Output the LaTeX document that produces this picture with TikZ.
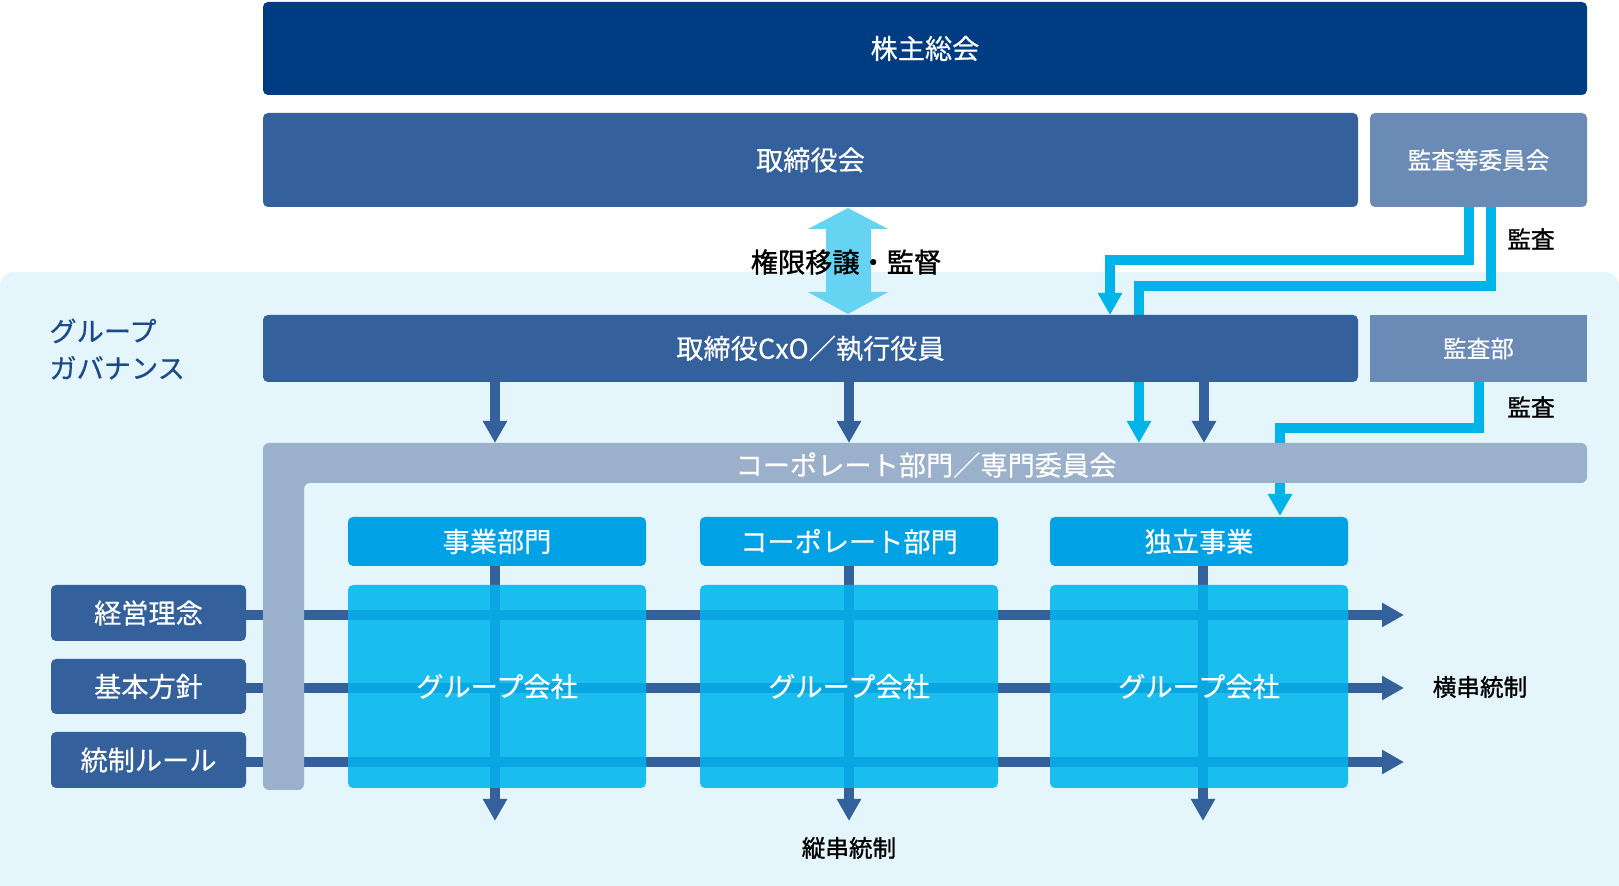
\documentclass[tikz,border=0pt]{standalone}
\usepackage{fontspec}
\setmainfont{Noto Sans CJK JP}[FakeBold=0.4]
\newfontfamily\lblfont{Noto Sans CJK JP}[FakeBold=1.2]
\usetikzlibrary{arrows.meta}
\definecolor{navy}{HTML}{003C82}
\definecolor{mid}{HTML}{34619B}
\definecolor{lite}{HTML}{6A8BB6}
\definecolor{bgl}{HTML}{E4F5FC}
\definecolor{barg}{HTML}{9BB0CB}
\definecolor{cyanl}{HTML}{00B4EA}
\definecolor{bigar}{HTML}{66D3F3}
\definecolor{hdr}{HTML}{00A2E6}
\definecolor{comp}{HTML}{19BEEE}
\definecolor{linein}{HTML}{0AA6E2}
\definecolor{ggtext}{HTML}{1B4A8A}
\newcommand\bx[7]{\node[#6, minimum width={(#4-#2)*0.5pt}, minimum height={(#5-#3)*0.5pt}] (#1) at ({(#2+#4)/2},{(#3+#5)/2}) {#7};}
\tikzset{
  box/.style={inner sep=0pt, outer sep=0pt, rounded corners=2.5pt, text=white, font=\fontsize{13.6pt}{15pt}\selectfont},
  smallbox/.style={box, font=\fontsize{11.8pt}{14pt}\selectfont},
  lbl/.style={inner sep=0pt, text=black, font=\lblfont\fontsize{13.6pt}{15pt}\selectfont},
  slbl/.style={inner sep=0pt, text=black, font=\lblfont\fontsize{11.8pt}{14pt}\selectfont},
  darr/.style={draw=mid, line width=4.7pt, -{Triangle[length=11pt,width=11.5pt]}},
  carr/.style={draw=cyanl, line width=4.7pt, line join=miter, -{Triangle[length=11pt,width=11.5pt]}},
  inl/.style={draw=linein, line width=4.7pt},
}
\begin{document}
\begin{tikzpicture}[x=0.5pt,y=-0.5pt]
\useasboundingbox (0,0) rectangle (1619,886);
% light group region
\fill[bgl] (0,886) -- (0,286) arc[start angle=180,end angle=90,radius=7pt] -- (1605,272) arc[start angle=90,end angle=0,radius=7pt] -- (1619,886) -- cycle;

% top boxes
\bx{agm}{263}{2}{1587}{95}{box,fill=navy}{株主総会}
\bx{board}{263}{113}{1358}{207}{box,fill=mid}{取締役会}
\bx{ac}{1370}{113}{1587}{207}{smallbox,fill=lite}{監査等委員会}

% delegation arrow
\fill[bigar] (848,208) -- (888,229) -- (871,229) -- (871,292) -- (888,292) -- (848,314) -- (808,292) -- (826,292) -- (826,229) -- (808,229) -- cycle;
\node[lbl] (deleg) at (846,262) {権限移譲・監督};

% audit lines from committee
\coordinate (acA) at (1469,207);
\coordinate (acB) at (1491,207);
\coordinate (cxoA) at (1110,315);
\coordinate (corpB) at (1139,443);
\draw[carr] (acA) |- (1110,260) -- (cxoA);
\draw[carr] (acB) |- (1139,286) -- (corpB);
\node[slbl] (kansa1) at (1531,239) {監査};

% executive layer
\node[anchor=west, align=left, inner sep=0pt, text=ggtext, font=\fontsize{13.6pt}{18.5pt}\selectfont] (gg) at (49,349) {グループ\\ガバナンス};
\bx{cxo}{263}{315}{1358}{382}{box,fill=mid}{取締役CxO／執行役員}
\bx{audit}{1370}{315}{1587}{382}{smallbox,fill=lite,rounded corners=0pt}{監査部}

% audit line from audit department
\coordinate (auS) at (1479,382);
\coordinate (indT) at (1280,516);
\draw[carr] (auS) |- (1280,428) -- (indT);
\node[slbl] (kansa2) at (1531,407) {監査};

% CxO down arrows
\draw[darr] (cxo.south -| 495,0) -- (495,443);
\draw[darr] (cxo.south -| 849,0) -- (849,443);
\draw[darr] (cxo.south -| 1204,0) -- (1204,443);

% left boxes
\bx{rinen}{51}{585}{246}{641}{box,fill=mid}{経営理念}
\bx{hoshin}{51}{659}{246}{714}{box,fill=mid}{基本方針}
\bx{rule}{51}{732}{246}{788}{box,fill=mid}{統制ルール}

% division headers
\bx{h1}{348}{517}{646}{566}{box,fill=hdr}{事業部門}
\bx{h2}{700}{517}{998}{566}{box,fill=hdr}{コーポレート部門}
\bx{h3}{1050}{517}{1348}{566}{box,fill=hdr}{独立事業}

% horizontal control lines
\coordinate (e1) at (1404,615);
\coordinate (e2) at (1404,688);
\coordinate (e3) at (1404,762);
\draw[darr] (rinen.east |- e1) -- (e1);
\draw[darr] (hoshin.east |- e2) -- (e2);
\draw[darr] (rule.east |- e3) -- (e3);
% vertical control lines
\coordinate (v1) at (495,821);
\coordinate (v2) at (849,821);
\coordinate (v3) at (1203,821);
\draw[darr] (h1.south -| v1) -- (v1);
\draw[darr] (h2.south -| v2) -- (v2);
\draw[darr] (h3.south -| v3) -- (v3);

% corporate bar
\fill[barg, rounded corners=3pt] (263,790) -- (263,443) -- (1587,443) -- (1587,483) -- (304,483) -- (304,790) -- cycle;
\node[box] (corp) at (926,465) {コーポレート部門／専門委員会};

% group companies
\bx{gc1}{348}{585}{646}{788}{box,fill=comp}{}
\bx{gc2}{700}{585}{998}{788}{box,fill=comp}{}
\bx{gc3}{1050}{585}{1348}{788}{box,fill=comp}{}
\foreach \g/\vx in {gc1/495,gc2/849,gc3/1203}{
  \draw[inl] (\g.west |- e1) -- (\g.east |- e1);
  \draw[inl] (\g.west |- e2) -- (\g.east |- e2);
  \draw[inl] (\g.west |- e3) -- (\g.east |- e3);
  \draw[inl] (\g.north -| \vx,0) -- (\g.south -| \vx,0);
}
\node[box] (gt1) at (gc1.center) {グループ会社};
\node[box] (gt2) at (gc2.center) {グループ会社};
\node[box] (gt3) at (gc3.center) {グループ会社};

% side labels
\node[slbl] (yoko) at (1480,687) {横串統制};
\node[slbl] (tate) at (849,848) {縦串統制};
\end{tikzpicture}
\end{document}
